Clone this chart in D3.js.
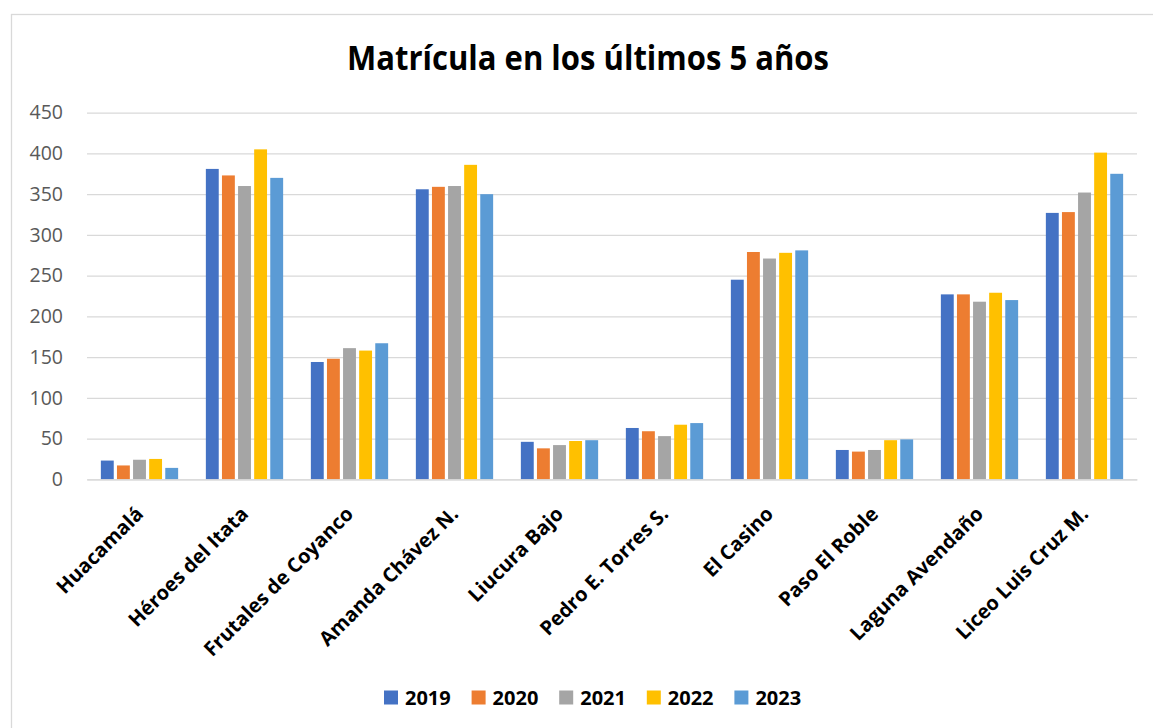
<!DOCTYPE html>
<html>
<head>
<meta charset="utf-8">
<script src="https://cdn.jsdelivr.net/npm/d3@7"></script>
<style>
  body { margin: 0; background: #fff; }
  svg { display: block; font-family: 'Open Sans', 'Noto Sans', sans-serif; }
</style>
</head>
<body>
<svg id="chart" width="1153" height="728"></svg>
<script>
const schools = ['Huacamalá', 'Héroes del Itata', 'Frutales de Coyanco', 'Amanda Chávez N.', 'Liucura Bajo',
  'Pedro E. Torres S.', 'El Casino', 'Paso El Roble', 'Laguna Avendaño', 'Liceo Luis Cruz M.']
const years = ['2019', '2020', '2021', '2022', '2023']
const v2019 = [23, 381, 144, 356, 46, 63, 245, 36, 227, 327]
const v2020 = [17, 373, 148, 359, 38, 59, 279, 34, 227, 328]
const v2021 = [24, 360, 161, 360, 42, 53, 271, 36, 218, 352]
const v2022 = [25, 405, 158, 386, 47, 67, 278, 48, 229, 401]
const v2023 = [14, 370, 167, 350, 48, 69, 281, 49, 220, 375]
const yTicks = [0, 50, 100, 150, 200, 250, 300, 350, 400, 450]
const colors = ['#4472C4', '#ED7D31', '#A5A5A5', '#FFC000', '#5B9BD5']

const series = [v2019, v2020, v2021, v2022, v2023]
const rows = schools.map((name, i) => ({
  name: name,
  values: years.map((y, j) => ({ year: y, value: series[j][i] }))
}))

let svg = d3.select('#chart')

// chart frame (only left/top edges show inside the window)
svg.append('rect')
  .attr('x', 11.5).attr('y', 14.5)
  .attr('width', 1160).attr('height', 730)
  .attr('fill', '#fff')
  .attr('stroke', '#d9d9d9')
  .attr('stroke-width', 1.3)

let x = d3.scaleBand()
  .domain(schools)
  .range([87, 1137])
  .paddingInner(0.264)
  .paddingOuter(0.132)

let xInner = d3.scaleBand()
  .domain(years)
  .range([0, x.bandwidth()])
  .paddingInner(0.2)

let y = d3.scaleLinear()
  .domain([0, 450])
  .range([479.3, 112.7])

let color = d3.scaleOrdinal().domain(years).range(colors)

// gridlines + y labels
let yAxis = d3.axisLeft(y)
  .tickValues(yTicks)
  .tickSize(-(1137 - 87))
  .tickPadding(24)

let gy = svg.append('g')
  .attr('transform', 'translate(87,0)')
  .call(yAxis)
gy.select('.domain').remove()
gy.selectAll('.tick line')
  .attr('stroke', '#d9d9d9')
  .attr('stroke-width', 1.3)
gy.selectAll('.tick text')
  .attr('fill', '#595959')
  .style('font-size', '19.5px')
  .style('font-family', "'Open Sans', sans-serif")

// bars
let groups = svg.append('g')
  .selectAll('g')
  .data(rows)
  .enter()
  .append('g')
  .attr('transform', d => `translate(${x(d.name)},0)`)

groups.selectAll('rect')
  .data(d => d.values)
  .enter()
  .append('rect')
  .attr('x', d => xInner(d.year))
  .attr('y', d => y(d.value))
  .attr('width', xInner.bandwidth())
  .attr('height', d => y(0) - y(d.value))
  .attr('fill', d => color(d.year))

// category labels, rotated
let xAxis = d3.axisBottom(x).tickSize(0).tickPadding(0)
let gx = svg.append('g')
  .attr('transform', `translate(0,${y(0)})`)
  .call(xAxis)
gx.select('.domain')
  .attr('stroke', '#d9d9d9')
  .attr('stroke-width', 1.3)
gx.selectAll('.tick text')
  .attr('text-anchor', 'end')
  .attr('fill', '#000')
  .attr('dy', 0)
  .attr('transform', 'translate(5,36) rotate(-45)')
  .style('font-size', '20px')
  .style('font-weight', 'bold')
  .style('font-family', "'Open Sans', sans-serif")

// title
svg.append('text')
  .attr('x', 588)
  .attr('y', 70)
  .attr('text-anchor', 'middle')
  .attr('textLength', 482)
  .attr('lengthAdjust', 'spacingAndGlyphs')
  .style('font-size', '34px')
  .style('font-weight', 'bold')
  .text('Matrícula en los últimos 5 años')

// legend
let legend = svg.append('g')
  .selectAll('g')
  .data(years)
  .enter()
  .append('g')
  .attr('transform', (d, i) => `translate(${384 + i * 87.6},690.5)`)

legend.append('rect')
  .attr('width', 14)
  .attr('height', 14)
  .attr('fill', d => color(d))

legend.append('text')
  .attr('x', 21)
  .attr('y', 14.5)
  .style('font-size', '20px')
  .style('font-weight', 'bold')
  .text(d => d)
</script>
</body>
</html>
